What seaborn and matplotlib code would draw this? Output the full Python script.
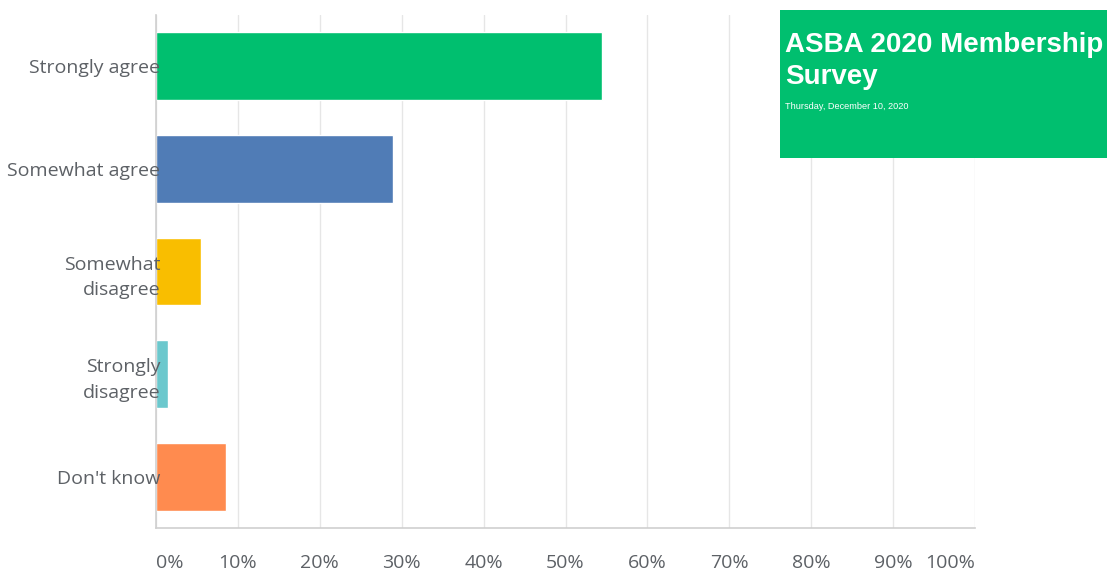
import matplotlib
matplotlib.use("Agg")
import matplotlib.pyplot as plt
import seaborn as sns
import pandas as pd

categories = ["Strongly agree", "Somewhat agree", "Somewhat\ndisagree", "Strongly\ndisagree", "Don't know"]
percent = [54.4, 28.9, 5.5, 1.5, 8.6]
bar_colors = ["#00BF6F", "#507CB6", "#F9BE00", "#6BC8CD", "#FF8B4F"]
x_ticks = [0, 10, 20, 30, 40, 50, 60, 70, 80, 90, 100]
x_tick_labels = ["0%", "10%", "20%", "30%", "40%", "50%", "60%", "70%", "80%", "90%", "100%"]
title = "ASBA 2020 Membership\nSurvey"
subtitle = "Thursday, December 10, 2020"

df = pd.DataFrame({"answer": categories, "pct": percent})

sns.set_style("white")
plt.rcParams['font.family'] = ['Open Sans', 'DejaVu Sans']

fig = plt.figure(figsize=(11.07, 5.71), dpi=100)
ax = fig.add_axes([0.1409, 0.0753, 0.7399, 0.8984])

sns.barplot(data=df, x="pct", y="answer", hue="answer", palette=bar_colors,
            legend=False, width=0.66, saturation=1, ax=ax, orient="h")

ax.set_xlim(0, 100)
ax.set_ylim(4.5, -0.5)
ax.set_xticks(x_ticks)
ax.set_xticklabels(x_tick_labels)
for i, lab in enumerate(ax.get_xticklabels()):
    if i == 0:
        lab.set_ha("left")
    elif i == len(x_ticks) - 1:
        lab.set_ha("right")
for lab in ax.get_yticklabels():
    lab.set_linespacing(1.55)
ax.set_xlabel("")
ax.set_ylabel("")
ax.tick_params(axis="x", length=0, pad=19, labelsize=14, labelcolor="#5d6166")
ax.tick_params(axis="y", length=0, pad=-3, labelsize=14, labelcolor="#5d6166")

ax.xaxis.grid(True, color="#e6e6e6", linewidth=1)
ax.set_axisbelow(True)
# category labels sit on top of the bars, like the original
ax.yaxis.set_zorder(3)
for side in ["top", "right"]:
    ax.spines[side].set_visible(False)
ax.spines["left"].set_color("#cfcfcf")
ax.spines["bottom"].set_color("#cfcfcf")
ax.spines["left"].set_linewidth(1.2)
ax.spines["bottom"].set_linewidth(1.2)

# title box in top right
box = fig.add_axes([780 / 1107, 1 - 158 / 571, 327 / 1107, 148 / 571])
box.set_facecolor("#00BF6F")
box.set_xticks([])
box.set_yticks([])
for s in box.spines.values():
    s.set_visible(False)
box.text(0.015, 0.85, title, color="white", fontsize=20, fontweight="bold",
         family=["Liberation Sans", "DejaVu Sans"], va="top", ha="left",
         linespacing=1.3, transform=box.transAxes)
box.text(0.015, 0.35, subtitle, color="white", fontsize=6.6,
         family=["Liberation Sans", "DejaVu Sans"], va="center", ha="left",
         transform=box.transAxes)

fig.savefig("out.png", dpi=100)
